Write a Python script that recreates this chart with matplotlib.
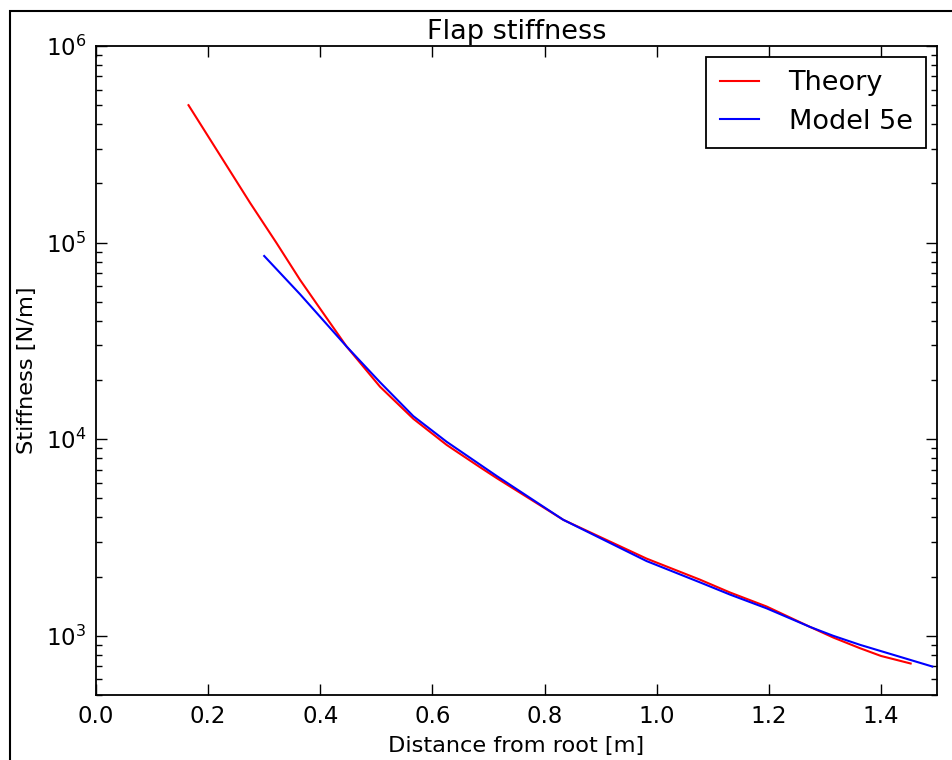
import matplotlib
matplotlib.use("Agg")
import matplotlib.pyplot as plt
from matplotlib.patches import Rectangle
from matplotlib.ticker import LogLocator, FixedLocator

theory_x = [0.165, 0.221, 0.275, 0.322, 0.364, 0.40, 0.447, 0.5065, 0.566, 0.6255,
            0.685, 0.7147, 0.8335, 0.982, 1.0773, 1.131, 1.196, 1.2735, 1.315,
            1.3626, 1.40, 1.453]
theory_y = [5.0e5, 2.79e5, 1.59e5, 9.95e4, 6.46e4, 4.6e4, 2.96e4, 1.85e4, 1.27e4, 9.35e3,
            7.2e3, 6.34e3, 3.89e3, 2.47e3, 1.93e3, 1.66e3, 1.41e3, 1.11e3, 980,
            865, 790, 723]

model_x = [0.30, 0.364, 0.447, 0.5065, 0.566, 0.6255, 0.7147, 0.8335, 0.982, 1.0773,
           1.131, 1.196, 1.2735, 1.315, 1.3626, 1.4916]
model_y = [8.55e4, 5.46e4, 2.96e4, 1.95e4, 1.31e4, 9.7e3, 6.5e3, 3.89e3, 2.4e3, 1.87e3,
           1.62e3, 1.38e3, 1.11e3, 1.0e3, 900, 698]

x_ticks = [0.0, 0.2, 0.4, 0.6, 0.8, 1.0, 1.2, 1.4]
x_tick_labels = ["0.0", "0.2", "0.4", "0.6", "0.8", "1.0", "1.2", "1.4"]

plt.rcParams['font.family'] = ['DejaVu Sans']

fig = plt.figure(figsize=(9.52, 7.6), dpi=100)
fig.patch.set_facecolor('white')
ax = fig.add_axes([96/952, 65/760, 841/952, 649/760])

ax.plot(theory_x, theory_y, color='red', lw=1.5, label='Theory')
ax.plot(model_x, model_y, color='blue', lw=1.5, label='Model 5e')

ax.set_yscale('log')
ax.set_xlim(0.0, 1.5)
ax.set_ylim(500, 1e6)
ax.xaxis.set_major_locator(FixedLocator(x_ticks))
ax.set_xticklabels(x_tick_labels)
ax.yaxis.set_major_locator(LogLocator(base=10, numticks=10))
ax.yaxis.set_minor_locator(LogLocator(base=10, subs=range(2, 10), numticks=20))

ax.tick_params(which='both', direction='in', top=True, right=True, labelsize=16.5,
               width=1, colors='black', pad=7)
ax.tick_params(which='major', length=8)
ax.tick_params(which='minor', length=4)
ax.tick_params(axis='x', which='minor', bottom=False, top=False)
for s in ax.spines.values():
    s.set_linewidth(1.3)

ax.set_title('Flap stiffness', fontsize=19.5, pad=5)
ax.set_xlabel('Distance from root [m]', fontsize=16.2, labelpad=6)
ax.set_ylabel('Stiffness [N/m]', fontsize=16.2, labelpad=6)

leg = ax.legend(loc='upper right', fontsize=19.5, fancybox=False, framealpha=1,
                edgecolor='black', handlelength=1.45, handletextpad=1.1,
                borderaxespad=0.4, borderpad=0.5, labelspacing=0.45)
leg.get_frame().set_linewidth(1.3)

frame = Rectangle((9.5/952, -0.1), 1.2, (760-11)/760 + 0.1, transform=fig.transFigure,
                  fill=False, edgecolor='black', linewidth=1.5, clip_on=False)
fig.patches.append(frame)

fig.savefig('out.png', dpi=100, facecolor='white')
